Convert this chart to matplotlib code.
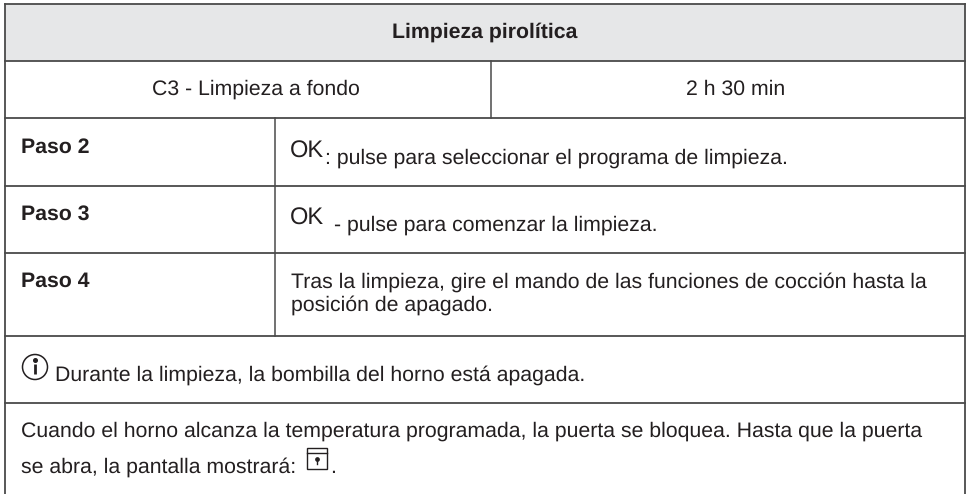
import matplotlib
matplotlib.use('Agg')
import matplotlib.pyplot as plt
from matplotlib.patches import Rectangle, Circle

plt.rcParams['font.family'] = ['Liberation Sans', 'DejaVu Sans']
plt.rcParams['text.hinting'] = 'none'

title = 'Limpieza pirolítica'
program = 'C3 - Limpieza a fondo'
duration = '2 h 30 min'
steps = ['Paso 2', 'Paso 3', 'Paso 4']
step_2 = ': pulse para seleccionar el programa de limpieza.'
step_3 = '- pulse para comenzar la limpieza.'
step_4 = ['Tras la limpieza, gire el mando de las funciones de cocción hasta la',
          'posición de apagado.']
note = 'Durante la limpieza, la bombilla del horno está apagada.'
lock_1 = 'Cuando el horno alcanza la temperatura programada, la puerta se bloquea. Hasta que la puerta'
lock_2 = 'se abra, la pantalla mostrará:'

LINE = '#4a4a4a'
TXT = '#231f20'
FS = 15.35

fig = plt.figure(figsize=(9.66, 4.94), dpi=100)
ax = fig.add_axes([0, 0, 1, 1])
ax.set_xlim(0, 966)
ax.set_ylim(494, 0)
ax.axis('off')

# header band
ax.add_patch(Rectangle((5, 4), 960, 57, fc='#e6e7e8', ec='none'))

# table rules
for y in [4, 61, 118, 186, 253, 336, 403]:
    ax.plot([5, 965], [y, y], color=LINE, lw=1.3)
ax.plot([5, 5], [4, 494], color=LINE, lw=1.3)
ax.plot([965, 965], [4, 494], color=LINE, lw=1.3)
ax.plot([275, 275], [118, 336], color=LINE, lw=1.1)
ax.plot([491, 491], [61, 118], color=LINE, lw=1.1)

ax.text(485, 38, title, ha='center', va='baseline', fontsize=FS, weight='bold', color=TXT)
ax.text(256, 95, program, ha='center', va='baseline', fontsize=FS, color=TXT)
ax.text(735.5, 95, duration, ha='center', va='baseline', fontsize=FS, color=TXT)

for y, s in zip([153, 220, 287], steps):
    ax.text(21, y, s, ha='left', va='baseline', fontsize=FS, weight='bold', color=TXT)

# OK symbols are bigger than the body text
ax.text(290, 158, 'OK', ha='left', va='baseline', fontsize=17, color=TXT)
ax.text(290, 225, 'OK', ha='left', va='baseline', fontsize=17, color=TXT)
ax.text(325, 164, step_2, ha='left', va='baseline', fontsize=FS, color=TXT)
ax.text(334, 231, step_3, ha='left', va='baseline', fontsize=FS, color=TXT)
ax.text(291, 288, step_4[0], ha='left', va='baseline', fontsize=FS, color=TXT)
ax.text(291, 311, step_4[1], ha='left', va='baseline', fontsize=FS, color=TXT)

# info icon
ax.add_patch(Circle((35, 367), 12.5, fc='none', ec=TXT, lw=1.1))
ax.plot([35, 35], [364, 374], color=TXT, lw=2.0, solid_capstyle='butt')
ax.plot([35], [360], marker='o', ms=2.6, color=TXT)
ax.text(55, 381, note, ha='left', va='baseline', fontsize=FS, color=TXT)

ax.text(21, 437, lock_1, ha='left', va='baseline', fontsize=FS, color=TXT)
ax.text(21, 473, lock_2, ha='left', va='baseline', fontsize=FS, color=TXT)

# door lock symbol
ax.add_patch(Rectangle((307, 448), 20, 21, fc='none', ec=TXT, lw=1.0))
ax.plot([307, 327], [453, 453], color=TXT, lw=1.0)
ax.plot([317], [459], marker='o', ms=2.4, color=TXT)
ax.plot([317, 317], [459, 464], color=TXT, lw=1.0)
ax.text(330, 473, '.', ha='left', va='baseline', fontsize=FS, color=TXT)

fig.savefig('out.png', dpi=100)
